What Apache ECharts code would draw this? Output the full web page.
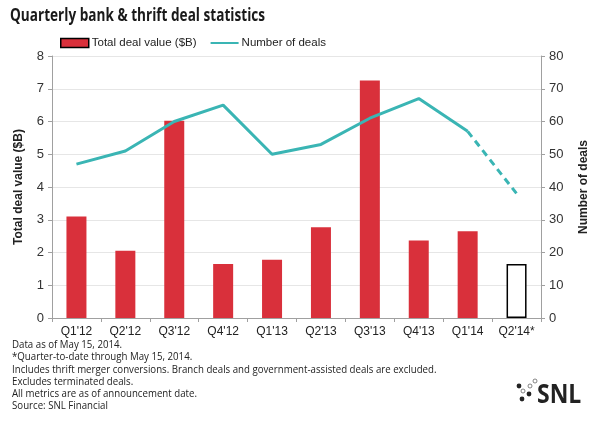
<!DOCTYPE html>
<html>
<head>
<meta charset="utf-8">
<script src="https://cdn.jsdelivr.net/npm/echarts@6/dist/echarts.min.js"></script>
<style>
  html, body { margin: 0; padding: 0; background: #fff; }
  #chart { width: 600px; height: 423px; }
</style>
</head>
<body>
<div id="chart"></div>
<script>
const quarters = ["Q1'12", "Q2'12", "Q3'12", "Q4'12", "Q1'13", "Q2'13", "Q3'13", "Q4'13", "Q1'14", "Q2'14*"];
const dealValue = [3.1, 2.05, 6.02, 1.65, 1.78, 2.77, 7.25, 2.37, 2.65, 1.65];
const dealCount = [47, 51, 60, 65, 50, 53, 61, 67, 57, 38];
const notes = [
  "Data as of May 15, 2014.",
  "*Quarter-to-date through May 15, 2014.",
  "Includes thrift merger conversions. Branch deals and government-assisted deals are excluded.",
  "Excludes terminated deals.",
  "All metrics are as of announcement date.",
  "Source: SNL Financial"
];

const RED = "#D9303B";
const TEAL = "#3AB5B4";
const GRID = "#E6E6E6";
const AXIS = "#A0A0A0";
const last = quarters.length - 1;

// solid line up to Q1'14, dashed for the partial quarter
const solidCount = dealCount.map((v, i) => (i < last ? v : null));
const dashCount = dealCount.map((v, i) => (i >= last - 1 ? v : null));
const barData = dealValue.map((v, i) =>
  i === last
    ? { value: v, itemStyle: { color: "#fff", borderColor: "#000", borderWidth: 1.5 } }
    : v
);

const chart = echarts.init(document.getElementById("chart"));
const option = {
  animation: false,
  grid: { left: 52, right: 59, top: 56, bottom: 105 },
  legend: {
    top: 37,
    left: 60,
    padding: 0,
    itemGap: 14,
    itemWidth: 28,
    itemHeight: 9,
    textStyle: { fontFamily: "Liberation Sans", fontSize: 11.5, color: "#222", padding: [0, 0, 0, -2] },
    data: [
      { name: "Total deal value ($B)", icon: "rect", itemStyle: { color: RED, borderColor: "#000", borderWidth: 1.5 } },
      { name: "Number of deals", icon: "path://M0,4 L28,4 L28,6 L0,6 Z", itemStyle: { color: TEAL } }
    ]
  },
  xAxis: {
    type: "category",
    data: quarters,
    axisLine: { lineStyle: { color: AXIS } },
    axisTick: { show: true, alignWithLabel: false, length: 4, lineStyle: { color: AXIS } },
    axisLabel: { fontFamily: "Liberation Sans", fontSize: 12, color: "#222", margin: 8, interval: 0 }
  },
  yAxis: [
    {
      type: "value",
      min: 0, max: 8, interval: 1,
      name: "Total deal value ($B)",
      nameLocation: "middle",
      nameGap: 27,
      nameTextStyle: { fontFamily: "Liberation Sans", fontWeight: "bold", fontSize: 12, color: "#222" },
      axisLine: { show: true, lineStyle: { color: AXIS } },
      axisTick: { show: true, length: 4, lineStyle: { color: AXIS } },
      axisLabel: { fontFamily: "Liberation Sans", fontSize: 13, color: "#333", margin: 8 },
      splitLine: { lineStyle: { color: GRID } }
    },
    {
      type: "value",
      min: 0, max: 80, interval: 10,
      name: "Number of deals",
      nameLocation: "middle",
      nameGap: 37,
      nameRotate: 90,
      nameTextStyle: { fontFamily: "Liberation Sans", fontWeight: "bold", fontSize: 12, color: "#222" },
      axisLine: { show: true, lineStyle: { color: AXIS } },
      axisTick: { show: true, length: 4, lineStyle: { color: AXIS } },
      axisLabel: { fontFamily: "Liberation Sans", fontSize: 13, color: "#333", margin: 8 },
      splitLine: { show: false }
    }
  ],
  series: [
    {
      name: "Total deal value ($B)",
      type: "bar",
      data: barData,
      barWidth: 20,
      itemStyle: { color: RED }
    },
    {
      name: "Number of deals",
      type: "line",
      yAxisIndex: 1,
      data: solidCount,
      showSymbol: false,
      lineStyle: { color: TEAL, width: 3 },
      itemStyle: { color: TEAL }
    },
    {
      name: "Number of deals",
      type: "line",
      yAxisIndex: 1,
      data: dashCount,
      showSymbol: false,
      lineStyle: { color: TEAL, width: 3, type: [7, 5] },
      itemStyle: { color: TEAL }
    }
  ],
  graphic: [
    // title, squeezed a little to mimic the condensed original face
    {
      type: "text",
      x: 10,
      y: 8,
      scaleX: 0.8,
      style: {
        text: "Quarterly bank & thrift deal statistics",
        fontFamily: "Open Sans",
        fontWeight: "bold",
        fontSize: 17,
        fill: "#1a1a1a"
      }
    },
    {
      type: "text",
      x: 12,
      y: 339,
      scaleX: 0.88,
      style: {
        text: notes.join("\n"),
        fontFamily: "Open Sans",
        fontSize: 11,
        lineHeight: 12.2,
        fill: "#222"
      }
    },
    // SNL logo
    { type: "circle", shape: { cx: 519, cy: 386, r: 2.4 }, style: { fill: "#222" } },
    { type: "circle", shape: { cx: 529, cy: 394, r: 2.4 }, style: { fill: "#222" } },
    { type: "circle", shape: { cx: 522, cy: 399, r: 2.4 }, style: { fill: "#222" } },
    { type: "circle", shape: { cx: 523, cy: 391, r: 2.0 }, style: { fill: "#fff", stroke: "#666", lineWidth: 0.8 } },
    { type: "circle", shape: { cx: 530, cy: 386, r: 2.0 }, style: { fill: "#fff", stroke: "#666", lineWidth: 0.8 } },
    { type: "circle", shape: { cx: 535, cy: 381, r: 2.0 }, style: { fill: "#fff", stroke: "#666", lineWidth: 0.8 } },
    {
      type: "text",
      x: 537,
      y: 382,
      scaleX: 0.85,
      style: { text: "SNL", fontFamily: "Open Sans", fontWeight: "bold", fontSize: 27, fill: "#222" }
    }
  ]
};
chart.setOption(option);
</script>
</body>
</html>
